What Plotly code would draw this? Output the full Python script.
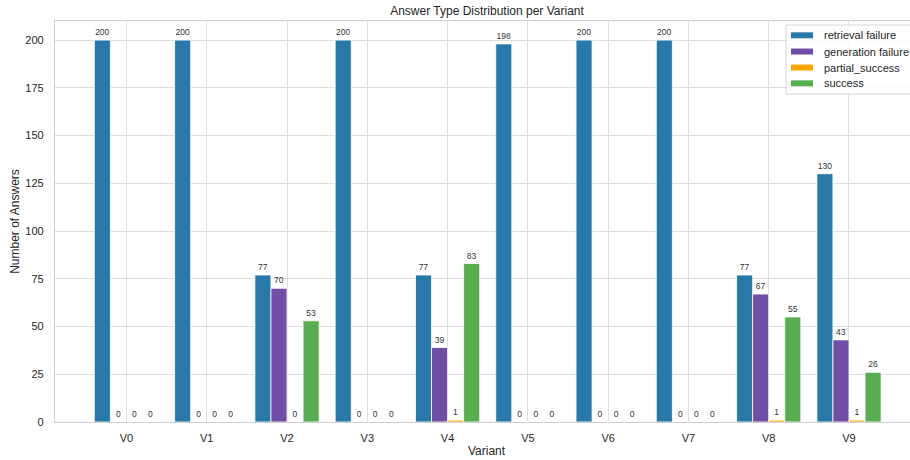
import plotly.graph_objects as go

variants = ["V0", "V1", "V2", "V3", "V4", "V5", "V6", "V7", "V8", "V9"]
series_names = ["retrieval failure", "generation failure", "partial_success", "success"]
retrieval_failure = [200, 200, 77, 200, 77, 198, 200, 200, 77, 130]
generation_failure = [0, 0, 70, 0, 39, 0, 0, 0, 67, 43]
partial_success = [0, 0, 0, 0, 1, 0, 0, 0, 1, 1]
success = [0, 0, 53, 0, 83, 0, 0, 0, 55, 26]
y_ticks = [0, 25, 50, 75, 100, 125, 150, 175, 200]

colors = ["#2879a8", "#704ea8", "#ffa500", "#58ad50"]
values = [retrieval_failure, generation_failure, partial_success, success]

FONT = "Liberation Sans, Arial, sans-serif"

# plot area in pixels
L, R, T, B = 55, 910, 21, 421.7


def px(x):
    return (x - L) / (R - L)


def py(y):
    return (B - y) / (B - T)


fig = go.Figure()
for name, vals, col in zip(series_names, values, colors):
    fig.add_trace(go.Bar(
        x=variants, y=vals, name=name,
        marker=dict(color=col, line=dict(color="rgba(255,255,255,0.8)", width=1)),
        text=[str(v) for v in vals], textposition="outside",
        textfont=dict(size=8.5, color="#333333", family=FONT),
        cliponaxis=False, showlegend=False,
    ))

fig.update_layout(
    width=910, height=460,
    margin=dict(l=L, r=910 - R, t=T, b=460 - B, autoexpand=False),
    paper_bgcolor="white", plot_bgcolor="white",
    barmode="group", bargap=0.2, bargroupgap=0,
    font=dict(family=FONT, size=11, color="#262626"),
    title=dict(text="Answer Type Distribution per Variant", x=487/910, xref="container",
               xanchor="center", y=1 - 11/460, yanchor="middle", yref="container",
               automargin=False,
               font=dict(size=12, color="#262626", family=FONT)),
    showlegend=False,
)
fig.update_xaxes(
    range=[-0.89, 9.76], showgrid=True, gridcolor="#dedede", gridwidth=1,
    showline=True, linecolor="#cfcfcf", linewidth=1.2, mirror=True,
    ticks="outside", ticklen=6, tickcolor="rgba(0,0,0,0)", automargin=False,
    tickfont=dict(size=11, color="#262626"),
)
fig.update_yaxes(
    range=[0, 210], tickvals=y_ticks, showgrid=True, gridcolor="#dedede", gridwidth=1,
    showline=True, linecolor="#cfcfcf", linewidth=1.2, zeroline=False,
    ticks="outside", ticklen=8, tickcolor="rgba(0,0,0,0)", automargin=False,
    tickfont=dict(size=11, color="#262626"),
    title=dict(text="Number of Answers", font=dict(size=12, color="#262626"), standoff=3),
)
fig.add_annotation(text="Variant", xref="paper", yref="paper",
                   x=px(487), y=py(451), xanchor="center", yanchor="middle",
                   showarrow=False, font=dict(size=12, color="#262626", family=FONT))

# legend box (drawn manually to match the reference's compact layout)
fig.add_shape(type="rect", xref="paper", yref="paper",
              x0=px(786), x1=px(916), y0=py(94), y1=py(25),
              line=dict(color="#d4d4d4", width=1), fillcolor="rgba(255,255,255,0.85)",
              layer="above")
row_y = [35.3, 51.5, 67.5, 83.3]
for name, col, yy in zip(series_names, colors, row_y):
    fig.add_shape(type="rect", xref="paper", yref="paper",
                  x0=px(791), x1=px(813), y0=py(yy + 3), y1=py(yy - 3),
                  line=dict(width=0), fillcolor=col, layer="above")
    fig.add_annotation(text=name, xref="paper", yref="paper",
                       x=px(822), y=py(yy), xanchor="left", yanchor="middle",
                       showarrow=False, font=dict(size=11, color="#262626", family=FONT))

fig.write_html("out.html", post_script="document.body.style.margin='0';",
               config={"displayModeBar": False})
